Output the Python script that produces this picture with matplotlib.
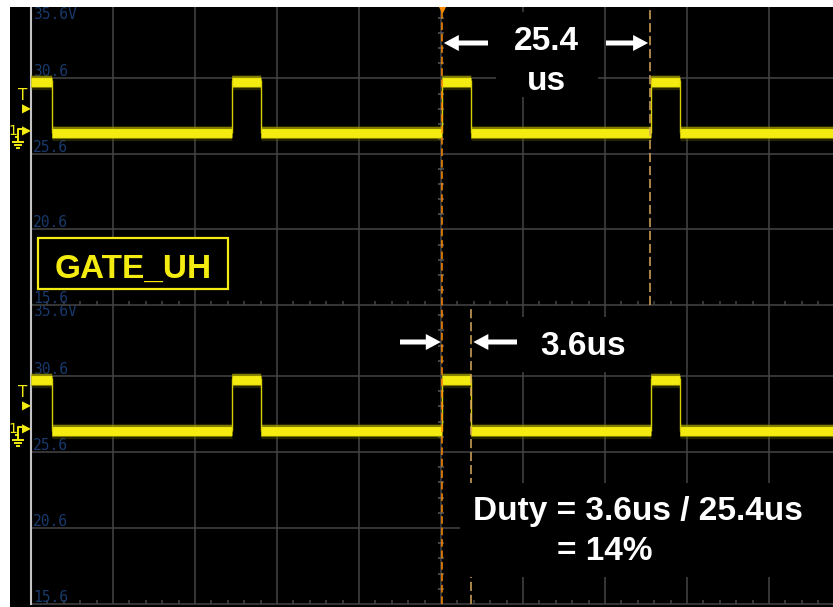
import numpy as np
import matplotlib
matplotlib.use("Agg")
import matplotlib.pyplot as plt
from matplotlib.patches import Rectangle, FancyArrow
from matplotlib.lines import Line2D
from matplotlib.transforms import IdentityTransform

# ---- scope settings -------------------------------------------------------
volt_ticks = [35.6, 30.6, 25.6, 20.6, 15.6]          # V, 5 V/div
volt_labels = ["35.6V", "30.6", "25.6", "20.6", "15.6"]
time_ticks = [10, 20, 30, 40, 50, 60, 70, 80, 90]     # us, 10 us/div

# ---- GATE_UH waveform (same capture in both panels) -----------------------
rise_times = [-1.0, 24.5, 50.1, 75.6]   # us
pulse_width = 3.6                        # us
period = 25.4                            # us
v_high = 30.35                           # V
v_low = 27.0                             # V
trigger_level = 28.6                     # V
cursor_a = 50.1                          # us

W, H, DPI = 833, 607, 100
YELLOW = "#f4ec10"
GRID = "#444444"
LABEL_BLUE = "#18396b"
ORANGE = "#ff8a00"
TAN = "#d9a95c"

fig = plt.figure(figsize=(W / DPI, H / DPI), dpi=DPI, facecolor="black")


def fx(x):
    return x / W


def fy(y):
    return 1 - y / H


t_end = 100.0
ax_top = fig.add_axes([fx(31), fy(305), 820 / W, 302 / H])
ax_bot = fig.add_axes([fx(31), fy(604), 820 / W, 304 / H])
ax_top.set_zorder(1)

fall_times = [r + pulse_width for r in rise_times]
hi_start = [max(r, 0.0) for r in rise_times]
hi_end = fall_times
lo_start = fall_times
lo_end = rise_times[1:] + [t_end]
edges = [r for r in rise_times if r > 0] + fall_times


def draw_panel(ax, cursor_b):
    ax.set_facecolor("black")
    ax.set_xlim(0, t_end)
    ax.set_ylim(min(volt_ticks), max(volt_ticks))
    ax.set_xticks([])
    ax.set_yticks([])
    for s in ax.spines.values():
        s.set_visible(False)

    # graticule
    ax.vlines(time_ticks, min(volt_ticks), max(volt_ticks), colors=GRID,
              lw=1.1, clip_on=False, zorder=1)
    ax.hlines(volt_ticks, 0, t_end, colors=GRID, lw=1.1, clip_on=False, zorder=1)
    minor_t = [t for t in np.arange(2, t_end, 2) if t % 10]
    ax.vlines(minor_t, min(volt_ticks), min(volt_ticks) + 0.27, colors=GRID,
              lw=1.1, clip_on=False, zorder=1)
    minor_v = [v for v in np.arange(16.6, 35.6, 1.0)
               if all(abs(v - m) > 0.01 for m in volt_ticks)]
    ax.hlines(minor_v, 50 - 0.35, 50 + 0.35, colors="#5a5a5a", lw=1.1, zorder=1)
    ax.axvline(0, color="#c4c4c4", lw=1.5, clip_on=False, zorder=2)

    # channel scale labels
    for v, lab in zip(volt_ticks, volt_labels):
        if lab.endswith("V"):
            ax.annotate(lab, xy=(0, v), xytext=(2, -4), textcoords="offset pixels",
                        ha="left", va="top", fontsize=10.5, color=LABEL_BLUE,
                        family="DejaVu Sans Mono", annotation_clip=False, zorder=2)
        else:
            ax.annotate(lab, xy=(0, v), xytext=(2, 2), textcoords="offset pixels",
                        ha="left", va="baseline", fontsize=10.5, color=LABEL_BLUE,
                        family="DejaVu Sans Mono", annotation_clip=False, zorder=2)

    # trace: soft halo plus bright core
    for lw, col, a in [(11.0, "#6a6500", 0.35), (8.6, "#aea600", 0.7),
                       (6.4, YELLOW, 1.0)]:
        ax.hlines([v_high] * len(hi_start), hi_start, hi_end, colors=col, lw=lw,
                  alpha=a, capstyle="butt", zorder=3)
        ax.hlines([v_low] * len(lo_start), lo_start, lo_end, colors=col, lw=lw,
                  alpha=a, capstyle="butt", zorder=3)
    ax.vlines(edges, v_low, v_high + 0.15, colors="#d8d000", lw=1.0, zorder=3)

    # cursors
    ax.axvline(cursor_a, color=ORANGE, lw=1.1, ls=(0, (5, 2.5)), zorder=4)
    ax.axvline(cursor_b, color=TAN, lw=1.1, ls=(0, (6, 2.5)), zorder=4)

    # trigger and ground reference markers
    ax.annotate("T", xy=(0, trigger_level), xytext=(-8, 6), textcoords="offset pixels",
                ha="center", va="bottom", fontsize=11, color=YELLOW,
                annotation_clip=False)
    ax.annotate("\u25B6", xy=(0, trigger_level), xytext=(-4.5, 0),
                textcoords="offset pixels", ha="center", va="center", fontsize=8.5,
                color=YELLOW, annotation_clip=False)
    ax.annotate("\u25B6", xy=(0, v_low), xytext=(-4.5, 2),
                textcoords="offset pixels", ha="center", va="center", fontsize=8.5,
                color=YELLOW, annotation_clip=False)
    ax.annotate("1", xy=(0, v_low), xytext=(-18, 2), textcoords="offset pixels",
                ha="center", va="center", fontsize=10, color=YELLOW,
                annotation_clip=False)
    gx, gy = ax.transData.transform((0, v_low))
    glyph = [
        [(-15, 4), (-12.5, 4), (-12.5, -4), (-7, -4)],
        [(-12.5, 4), (-12.5, 9)],
        [(-18, 9), (-8, 9)],
        [(-16, 12), (-10, 12)],
        [(-14, 15), (-12, 15)],
    ]
    for seg in glyph:
        xs = [gx + p[0] for p in seg]
        ys = [gy - p[1] for p in seg]
        fig.add_artist(Line2D(xs, ys, color=YELLOW, lw=1.4,
                              transform=IdentityTransform(), zorder=4))


draw_panel(ax_top, cursor_a + period)
draw_panel(ax_bot, cursor_a + pulse_width)

# cursor marker at the top edge
ax_top.plot([cursor_a], [35.25], marker="v", ms=6, color=ORANGE, clip_on=False,
            zorder=5)

# ---- annotations ----------------------------------------------------------
txt = dict(family="Liberation Sans", fontweight="bold", fontsize=24, color="white",
           zorder=8)


def black_box(x0, y0, x1, y1, edge=None):
    fig.add_artist(Rectangle((fx(x0), fy(y1)), fx(x1) - fx(x0), fy(y0) - fy(y1),
                             transform=fig.transFigure, facecolor="black",
                             edgecolor=edge if edge else "none",
                             lw=1.6 if edge else 0, zorder=6))


def arrow(x_tail, x_head, y):
    fig.add_artist(FancyArrow(x_tail, H - y, x_head - x_tail, 0, width=5,
                              head_width=16, head_length=15,
                              length_includes_head=True, color="white", lw=0,
                              transform=IdentityTransform(), zorder=8))


xa = ax_top.transData.transform((cursor_a, 0))[0]
xb_top = ax_top.transData.transform((cursor_a + period, 0))[0]
xb_bot = ax_bot.transData.transform((cursor_a + pulse_width, 0))[0]

# period measurement
black_box(496, 12, 598, 97)
fig.text(fx(546), fy(50), f"{period:.1f}", ha="center", va="baseline", **txt)
fig.text(fx(546), fy(90), "us", ha="center", va="baseline", **txt)
arrow(488, xa + 2, 43)
arrow(606, xb_top - 2, 43)

# pulse width measurement
black_box(522, 317, 614, 372)
fig.text(fx(583.5), fy(355), f"{pulse_width:.1f}us", ha="center", va="baseline", **txt)
arrow(400, xa - 1, 342)
arrow(517, xb_bot + 2, 342)

# duty cycle
duty = round(pulse_width / period * 100)
black_box(460, 483, 833, 577)
fig.text(fx(473), fy(520), f"Duty = {pulse_width:.1f}us / {period:.1f}us",
         ha="left", va="baseline", **txt)
fig.text(fx(557), fy(560), f"= {duty}%", ha="left", va="baseline", **txt)

# channel name
black_box(38, 238, 228, 289, edge=YELLOW)
fig.text(fx(133.5), fy(278), "GATE_UH", ha="center", va="baseline",
         family="Liberation Sans", fontweight="bold", fontsize=24, color=YELLOW,
         zorder=8)

# page margins
fig.add_artist(Rectangle((0, 0), fx(10), 1, transform=fig.transFigure,
                         facecolor="white", lw=0, zorder=20))
fig.add_artist(Rectangle((0, fy(7)), 1, 7 / H, transform=fig.transFigure,
                         facecolor="white", lw=0, zorder=20))

fig.savefig("out.png", dpi=DPI, facecolor="black")
